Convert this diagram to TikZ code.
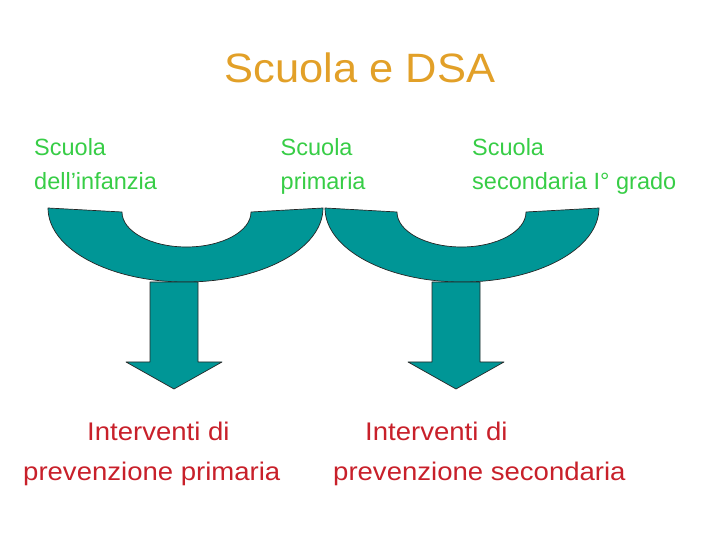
\documentclass[tikz,border=0pt]{standalone}
\usepackage{fontspec}
\setmainfont{Liberation Sans}
\newfontfamily\titlefont[FakeStretch=1.06]{Liberation Sans}
\newfontfamily\bottomfont[FakeStretch=1.08]{Liberation Sans}
\definecolor{teal1}{RGB}{0,150,150}
\definecolor{titleorange}{RGB}{226,160,40}
\definecolor{labelgreen}{RGB}{55,205,70}
\definecolor{bottomred}{RGB}{200,32,42}
\begin{document}
\begin{tikzpicture}[x=1pt,y=1pt,
  band/.style={fill=teal1,draw=black!85,line width=0.7pt,line join=round},
  lab/.style={anchor=base west,inner sep=0pt,text=labelgreen,font=\fontsize{23.5}{28}\selectfont},
  bot/.style={anchor=base west,inner sep=0pt,text=bottomred,font=\bottomfont\fontsize{25.5}{30}\selectfont},
  ttl/.style={anchor=base,inner sep=0pt,text=titleorange,font=\titlefont\fontsize{41}{48}\selectfont}]
\useasboundingbox (0,0) rectangle (720,540);
% title
\node[ttl] (title) at (360,457) {Scuola e DSA};
% top labels
\node[lab] (l1a) at (34,384) {Scuola};
\node[lab] (l1b) at (34,350) {dell’infanzia};
\node[lab] (l2a) at (280.5,384) {Scuola};
\node[lab] (l2b) at (280.5,350) {primaria};
\node[lab] (l3a) at (472,384) {Scuola};
\node[lab] (l3b) at (472,350) {secondaria I° grado};
% curved bands
\draw[band] (48,332) -- (122,328)
  arc[start angle=180,end angle=360,x radius=64.5,y radius=35]
  -- (323,332)
  arc[start angle=0,end angle=-180,x radius=137.5,y radius=74] -- cycle;
\draw[band] (325,332) -- (397,328)
  arc[start angle=180,end angle=360,x radius=64.5,y radius=35]
  -- (599,332)
  arc[start angle=0,end angle=-180,x radius=137,y radius=74] -- cycle;
% arrows
\draw[band] (150,258) -- (150,178) -- (126,178) -- (174,151) -- (222,178) -- (198,178) -- (198,258) -- cycle;
\draw[band] (432,258) -- (432,178) -- (408,178) -- (456,151) -- (504,178) -- (480,178) -- (480,258) -- cycle;
% bottom texts
\node[bot] (b1a) at (87,99) {Interventi di};
\node[bot] (b1b) at (23,59) {prevenzione primaria};
\node[bot] (b2a) at (365,99) {Interventi di};
\node[bot] (b2b) at (333,59) {prevenzione secondaria};
\end{tikzpicture}
\end{document}
